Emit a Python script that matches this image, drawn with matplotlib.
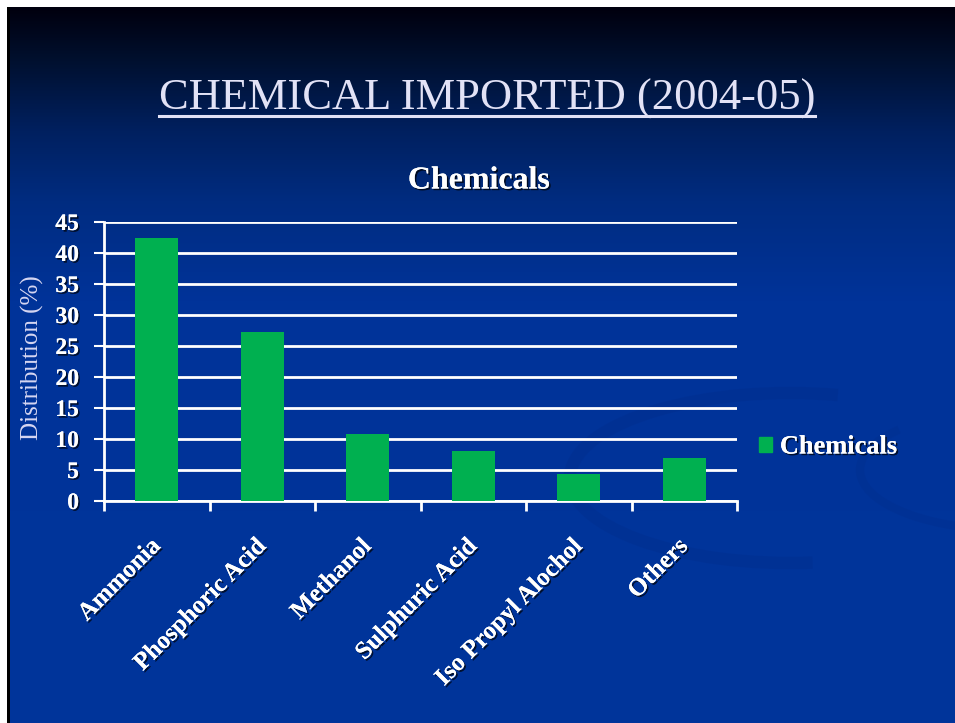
import numpy as np
import matplotlib
matplotlib.use("Agg")
import matplotlib.pyplot as plt
import matplotlib.patheffects as pe
from matplotlib.patches import Patch, Rectangle, Arc
from matplotlib.lines import Line2D
from matplotlib.colors import to_rgb

# data
categories = ['Ammonia', 'Phosphoric Acid', 'Methanol', 'Sulphuric Acid',
              'Iso Propyl Alochol', 'Others']
distribution = [42.5, 27.2, 10.8, 8.1, 4.4, 7.0]
yticks = [0, 5, 10, 15, 20, 25, 30, 35, 40, 45]

W, H = 955, 723
serif = 'Liberation Serif'
bar_green = '#00B050'
shadow = [pe.withSimplePatchShadow(offset=(1.2, -1.2), shadow_rgbFace='black', alpha=0.7),
          pe.Normal()]

fig = plt.figure(figsize=(W / 100, H / 100), dpi=100, facecolor='white')

# slide background: vertical gradient, near black at top to royal blue
bg = fig.add_axes([0, 0, 1, 1], zorder=0)
bg.axis('off')
stops_y = [7, 60, 130, 200, 300, 723]
stops_c = ['#00000e', '#00102f', '#00205f', '#002c80', '#003399', '#00359b']
ys = np.linspace(7, H, 400)
rgb = np.array([to_rgb(c) for c in stops_c])
grad = np.stack([np.interp(ys, stops_y, rgb[:, k]) for k in range(3)], axis=1)
img = np.repeat(grad[:, None, :], 2, axis=1)
bg.imshow(img, extent=(10, W, H, 7), aspect='auto', interpolation='bilinear')
bg.add_patch(Rectangle((7, 7), 3, H - 7, color='black', lw=0))
# faint swooshes in the lower right
swoosh = '#002a85'
bg.add_patch(Arc((790, 478), 440, 170, theta1=75, theta2=300, color=swoosh, lw=9, alpha=0.25))
bg.add_patch(Arc((1010, 470), 300, 120, theta1=90, theta2=200, color=swoosh, lw=6, alpha=0.22))
bg.add_patch(Arc((1250, 1050), 1500, 900, theta1=112, theta2=150, color=swoosh, lw=14, alpha=0.25))
bg.set_xlim(0, W)
bg.set_ylim(H, 0)

# slide title, underlined
title = fig.text(487 / W, 1 - 110 / H, 'CHEMICAL IMPORTED (2004-05)', family=serif,
                 fontsize=32, color='#E2E2F6', ha='center', va='baseline', zorder=3)
fig.canvas.draw()
bb = title.get_window_extent().transformed(fig.transFigure.inverted())
fig.add_artist(Line2D([bb.x0, bb.x1], [1 - 116 / H] * 2, color='#E2E2F6', lw=2.2,
                      transform=fig.transFigure, zorder=3))

# chart
ax = fig.add_axes([104 / W, 1 - 501 / H, 633 / W, 279 / H], zorder=2)
ax.patch.set_alpha(0)
x = np.arange(len(categories))
ax.bar(x, distribution, width=0.41, color=bar_green, zorder=3)
ax.set_xlim(-0.5, len(categories) - 0.5)
ax.set_ylim(0, 45)
ax.set_yticks(yticks)
ax.set_yticklabels([str(v) for v in yticks])
ax.yaxis.grid(True, color='white', lw=2, zorder=1)
ax.set_axisbelow(True)

ax.set_xticks(np.arange(len(categories) + 1) - 0.5)
ax.set_xticklabels([])
ax.set_xticks(x, minor=True)
ax.set_xticklabels(categories, minor=True)
ax.tick_params(axis='x', which='minor', length=0, pad=30)
ax.tick_params(axis='x', which='major', length=7, width=2, color='white', direction='out')
ax.tick_params(axis='y', length=7, width=1.5, color='white', direction='out', pad=11)

for s in ['top', 'right']:
    ax.spines[s].set_visible(False)
for s in ['left', 'bottom']:
    ax.spines[s].set_color('white')
    ax.spines[s].set_linewidth(2)

for lab in ax.get_yticklabels():
    lab.set_family(serif)
    lab.set_fontweight('bold')
    lab.set_fontsize(17)
    lab.set_color('white')
    lab.set_path_effects(shadow)
for lab in ax.get_xticklabels(minor=True):
    lab.set_family(serif)
    lab.set_fontweight('bold')
    lab.set_fontsize(18)
    lab.set_color('white')
    lab.set_rotation(45)
    lab.set_ha('right')
    lab.set_va('center')
    lab.set_rotation_mode('anchor')
    lab.set_path_effects(shadow)

ax.set_ylabel('Distribution (%)', family=serif, fontsize=18, color='#D6D6F2')
ax.yaxis.set_label_coords(-0.095, 0.514)

fig.text(479 / W, 1 - 181 / H, 'Chemicals', family=serif, fontweight='bold', fontsize=23,
         color='white', ha='center', va='center', path_effects=shadow, zorder=3)

leg = fig.legend(handles=[Patch(color=bar_green, label='Chemicals')],
                 loc='center left', bbox_to_anchor=(735 / W, 1 - 447 / H),
                 frameon=False, handlelength=0.5, handleheight=0.5, handletextpad=0.3,
                 prop={'family': serif, 'weight': 'bold', 'size': 19})
for t in leg.get_texts():
    t.set_color('white')
    t.set_path_effects(shadow)

fig.savefig('out.png', dpi=100, facecolor='white')
